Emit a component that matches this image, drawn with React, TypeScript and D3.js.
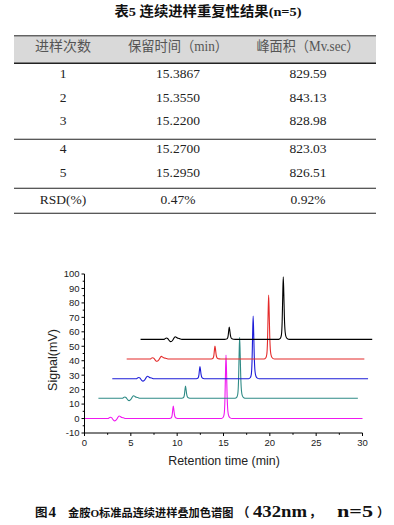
import React from "react";
import * as d3 from "d3";

// ---------- table data ----------
const tableTitle = "表5  连续进样重复性结果(n=5)";
const tableHeaders = ["进样次数", "保留时间（min）", "峰面积（Mv.sec）"];
const injectionLabels = ["1", "2", "3", "4", "5", "RSD(%)"];
const retentionTimes = ["15.3867", "15.3550", "15.2200", "15.2700", "15.2950", "0.47%"];
const peakAreas = ["829.59", "843.13", "828.98", "823.03", "826.51", "0.92%"];

// ---------- chromatogram data (5 stacked injections) ----------
const traceColors = ["#f018f0", "#2f8b86", "#1c1cd8", "#e42a2a", "#000000"];
const startTimes = [0, 1.5, 3.0, 4.55, 6.05];
const endTimes = [30.0, 29.5, 30.6, 30.2, 31.05];
const baselines = [0, 14.0, 27.5, 41.2, 54.8];
const bumpStarts = [2.55, 4.1, 5.6, 7.1, 8.6];
const smallPeakTimes = [9.58, 10.9, 12.46, 14.08, 15.62];
const smallPeakHeights = [8.6, 8.5, 8.4, 9.0, 8.5];
const mainPeakTimes = [15.27, 16.74, 18.2, 19.87, 21.45];
const mainPeakHeights = [43.9, 42.2, 43.4, 44.3, 43.3];
// early disturbance shape: [minutes after start, mV]
const bumpProfile: [number, number][] = [
  [0, 0], [0.12, 0.6], [0.25, 0.9], [0.4, 0.4], [0.55, -0.9], [0.72, -1.6],
  [0.9, -0.8], [1.05, 0.8], [1.2, 1.8], [1.35, 1.2], [1.5, 0.7], [1.65, 0.5], [1.9, 0],
];
// peak shape: [minutes from apex, fraction of height]
const peakProfile: [number, number][] = [
  [-0.5, 0], [-0.3, 0.02], [-0.2, 0.07], [-0.12, 0.28], [-0.06, 0.68], [0, 1],
  [0.06, 0.72], [0.12, 0.36], [0.2, 0.12], [0.3, 0.04], [0.45, 0.01], [0.65, 0],
];

const yTicks = [-10, 0, 10, 20, 30, 40, 50, 60, 70, 80, 90, 100];
const yMinorTicks = [-5, 5, 15, 25, 35, 45, 55, 65, 75, 85, 95];
const xTicks = [0, 5, 10, 15, 20, 25, 30];
const xMinorTicks = [2.5, 7.5, 12.5, 17.5, 22.5, 27.5];

const serif = "'Liberation Serif', 'Noto Sans CJK SC', serif";
const sans = "'Liberation Sans', Arial, sans-serif";
const cjk = "'Liberation Serif', 'Noto Sans CJK SC', sans-serif";
const cjkOnly = "'Noto Sans CJK SC', sans-serif";

function buildTrace(i: number): [number, number][] {
  const b = baselines[i];
  const pts: [number, number][] = [[startTimes[i], b]];
  bumpProfile.forEach(([dt, v]) => pts.push([bumpStarts[i] + dt, b + v]));
  peakProfile.forEach(([dt, f]) => pts.push([smallPeakTimes[i] + dt, b + f * smallPeakHeights[i]]));
  peakProfile.forEach(([dt, f]) => pts.push([mainPeakTimes[i] + dt, b + f * mainPeakHeights[i]]));
  pts.push([endTimes[i], b]);
  return pts;
}

export default function App() {
  const x = d3.scaleLinear().domain([0, 30]).range([84.5, 362.5]);
  const y = d3.scaleLinear().domain([-10, 100]).range([433, 274]);
  const line = d3
    .line<[number, number]>()
    .x((d) => x(d[0]))
    .y((d) => y(d[1]))
    .curve(d3.curveMonotoneX);

  const colX = [63, 178, 308];
  const rowY = [77.5, 101.5, 125, 153, 177, 203.5];
  const tableLeft = 14;
  const tableRight = 376;

  return (
    <div style={{ position: "absolute", left: 0, top: 0 }}>
      <svg width={394} height={525} style={{ display: "block", background: "#fff" }}>
        {/* ---------- table ---------- */}
        <text x={208} y={16} textAnchor="middle" fontFamily={cjk} fontWeight="bold" fontSize={13.5}
          textLength={187} lengthAdjust="spacingAndGlyphs" fill="#111">
          {tableTitle}
        </text>
        <rect x={tableLeft} y={36} width={tableRight - tableLeft} height={27} fill="#d9d9d9" />
        <line x1={tableLeft} x2={tableRight} y1={35.8} y2={35.8} stroke="#222" strokeWidth={1} />
        <line x1={tableLeft} x2={tableRight} y1={63.3} y2={63.3} stroke="#222" strokeWidth={1.4} />
        <line x1={tableLeft} x2={tableRight} y1={139.3} y2={139.3} stroke="#222" strokeWidth={1.1} />
        <line x1={tableLeft} x2={tableRight} y1={188.3} y2={188.3} stroke="#222" strokeWidth={1.1} />
        <line x1={tableLeft} x2={tableRight} y1={213.2} y2={213.2} stroke="#222" strokeWidth={1.1} />
        {tableHeaders.map((h, i) => (
          <text key={h} x={colX[i]} y={51} textAnchor="middle" fontFamily={cjk}
            fontSize={14} fill="#555"
            {...(i > 0 ? { textLength: i === 1 ? 100 : 103, lengthAdjust: "spacingAndGlyphs" } : {})}>
            {h}
          </text>
        ))}
        {injectionLabels.map((lab, r) => (
          <g key={lab} fontFamily={serif} fontSize={13.5} fill="#222" textAnchor="middle">
            <text x={colX[0]} y={rowY[r]}>{lab}</text>
            <text x={colX[1]} y={rowY[r]}>{retentionTimes[r]}</text>
            <text x={colX[2]} y={rowY[r]}>{peakAreas[r]}</text>
          </g>
        ))}

        {/* ---------- chromatogram ---------- */}
        {traceColors.map((c, i) => (
          <path key={i} d={line(buildTrace(i)) || ""} fill="none" stroke={c} strokeWidth={1.1} />
        ))}
        {/* y axis */}
        <line x1={x(0)} x2={x(0)} y1={y(100)} y2={y(-10)} stroke="#000" strokeWidth={1} />
        {yTicks.map((t) => (
          <g key={t}>
            <line x1={x(0) - 3} x2={x(0)} y1={y(t)} y2={y(t)} stroke="#000" strokeWidth={1} />
            <text x={x(0) - 5} y={y(t) + 3.4} textAnchor="end" fontFamily={sans} fontSize={9.5} fill="#222">
              {t}
            </text>
          </g>
        ))}
        {yMinorTicks.map((t) => (
          <line key={t} x1={x(0) - 1.8} x2={x(0)} y1={y(t)} y2={y(t)} stroke="#000" strokeWidth={1} />
        ))}
        {/* x axis */}
        <line x1={x(0)} x2={x(30)} y1={y(-10)} y2={y(-10)} stroke="#000" strokeWidth={1} />
        {xTicks.map((t) => (
          <g key={t}>
            <line x1={x(t)} x2={x(t)} y1={y(-10)} y2={y(-10) + 3} stroke="#000" strokeWidth={1} />
            <text x={x(t)} y={y(-10) + 13} textAnchor="middle" fontFamily={sans} fontSize={9.5} fill="#222">
              {t}
            </text>
          </g>
        ))}
        {xMinorTicks.map((t) => (
          <line key={t} x1={x(t)} x2={x(t)} y1={y(-10)} y2={y(-10) + 1.8} stroke="#000" strokeWidth={1} />
        ))}
        <text transform="translate(56.5,360) rotate(-90)" textAnchor="middle" fontFamily={sans} fontSize={12.5} fill="#222">
          Signal(mV)
        </text>
        <text x={224} y={464.5} textAnchor="middle" fontFamily={sans} fontSize={12.4} fill="#222">
          Retention time (min)
        </text>

        {/* ---------- caption ---------- */}
        <g fontWeight="bold" fill="#111">
          <text x={35} y={516.5} fontFamily={cjkOnly} fontSize={12.5}>图</text>
          <text x={48.5} y={516.5} fontFamily={serif} fontSize={15}>4</text>
          <text x={68} y={516.5} fontFamily={cjk} fontSize={11.2}>
            金胺O标准品连续进样叠加色谱图
          </text>
          <text x={237} y={516.5} fontFamily={cjkOnly} fontSize={12.5}>（</text>
          <text x={253} y={516.5} fontFamily={serif} fontSize={16} textLength={54} lengthAdjust="spacingAndGlyphs">432nm</text>
          <text x={309} y={516.5} fontFamily={cjkOnly} fontSize={12.5}>，</text>
          <text x={337} y={516.5} fontFamily={serif} fontSize={16} textLength={36} lengthAdjust="spacingAndGlyphs">n=5</text>
          <text x={377} y={516.5} fontFamily={cjkOnly} fontSize={12.5}>）</text>
        </g>
      </svg>
    </div>
  );
}
